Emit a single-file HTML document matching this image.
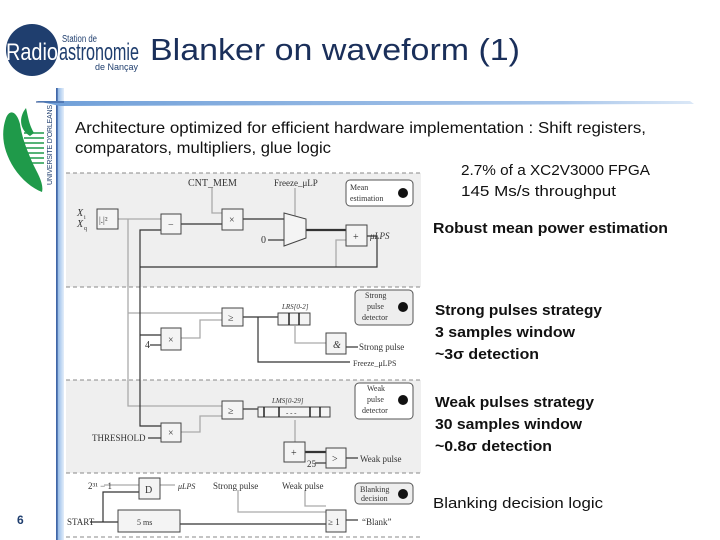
<!DOCTYPE html>
<html><head><meta charset="utf-8"><style>
html,body{margin:0;padding:0;background:#fff;}
svg{display:block;}
.t{font-family:"Liberation Sans",sans-serif;}
.s{font-family:"Liberation Serif",serif;fill:#333;}
</style></head><body>
<svg width="720" height="540" viewBox="0 0 720 540" xmlns="http://www.w3.org/2000/svg">
<defs>
<linearGradient id="hb" x1="0" x2="1" y1="0" y2="0"><stop offset="0" stop-color="#6f9fd8"/><stop offset="0.8" stop-color="#a9c6ea"/><stop offset="1" stop-color="#dbe8f7"/></linearGradient>
<linearGradient id="vb" x1="0" x2="1" y1="0" y2="0"><stop offset="0" stop-color="#4a78c0"/><stop offset="0.3" stop-color="#9cc0ea"/><stop offset="1" stop-color="#e4eefa"/></linearGradient>
</defs>
<!-- logo -->
<circle cx="32" cy="50" r="26" fill="#1f3e6e"/>
<text x="6" y="60" class="t" font-size="24" fill="#fff" textLength="52" lengthAdjust="spacingAndGlyphs">Radio</text>
<text x="59" y="60" class="t" font-size="24" fill="#1f3e6e" textLength="80" lengthAdjust="spacingAndGlyphs">astronomie</text>
<text x="62" y="42" class="t" font-size="10" fill="#1f3e6e" textLength="35" lengthAdjust="spacingAndGlyphs">Station de</text>
<text x="95" y="70" class="t" font-size="9" fill="#1f3e6e" textLength="43" lengthAdjust="spacingAndGlyphs">de Nançay</text>
<text x="150" y="60" class="t" font-size="31" fill="#1a2f5a" textLength="370" lengthAdjust="spacingAndGlyphs">Blanker on waveform  (1)</text>
<!-- green logo -->
<path d="M6 118 C0 135 4 152 14 168 C22 180 32 188 42 192 C44 184 38 174 33 164 C27 150 22 138 20 124 C17 112 10 108 6 118Z" fill="#1f9a4a"/>
<path d="M26 108 C18 118 20 130 30 136 L34 133 C29 125 28 116 26 108Z" fill="#1f9a4a"/>
<g stroke="#1f9a4a" stroke-width="1.5"><line x1="24" y1="133" x2="44" y2="133"/><line x1="24" y1="138" x2="44" y2="138"/><line x1="24" y1="143" x2="44" y2="143"/><line x1="24" y1="148" x2="44" y2="148"/><line x1="26" y1="153" x2="44" y2="153"/><line x1="28" y1="158" x2="44" y2="158"/><line x1="30" y1="163" x2="44" y2="163"/></g>
<text transform="translate(52,185) rotate(-90)" class="t" font-size="7" fill="#1f3e6e" textLength="80">UNIVERSITE D'ORLEANS</text>
<!-- bars -->
<rect x="56" y="88" width="8" height="452" fill="url(#vb)"/>
<line x1="57" y1="88" x2="57" y2="540" stroke="#2d4f8e" stroke-width="1"/>
<path d="M36 101 L690 101 L694 104 L60 106 Z" fill="url(#hb)"/>
<line x1="36" y1="102" x2="64" y2="102" stroke="#2d4f8e" stroke-width="1"/>
<text x="17" y="524" class="t" font-size="12" fill="#1f3e6e" font-weight="bold">6</text>
<!-- body text -->
<text x="75" y="133" class="t" font-size="16" fill="#111" textLength="571" lengthAdjust="spacingAndGlyphs">Architecture optimized for efficient hardware implementation : Shift registers,</text>
<text x="75" y="153" class="t" font-size="16" fill="#111" textLength="256" lengthAdjust="spacingAndGlyphs">comparators, multipliers, glue logic</text>
<g class="t" font-size="15" fill="#111">
<text x="461" y="175" textLength="189" lengthAdjust="spacingAndGlyphs">2.7% of a XC2V3000 FPGA</text>
<text x="461" y="196" textLength="155" lengthAdjust="spacingAndGlyphs">145 Ms/s throughput</text>
<text x="433" y="233" font-weight="bold" textLength="235" lengthAdjust="spacingAndGlyphs">Robust mean power estimation</text>
<text x="435" y="315" font-weight="bold" textLength="167" lengthAdjust="spacingAndGlyphs">Strong pulses strategy</text>
<text x="435" y="337" font-weight="bold" textLength="140" lengthAdjust="spacingAndGlyphs">3 samples window</text>
<text x="435" y="359" font-weight="bold" textLength="104" lengthAdjust="spacingAndGlyphs">~3σ detection</text>
<text x="435" y="407" font-weight="bold" textLength="159" lengthAdjust="spacingAndGlyphs">Weak pulses strategy</text>
<text x="435" y="429" font-weight="bold" textLength="147" lengthAdjust="spacingAndGlyphs">30 samples window</text>
<text x="435" y="451" font-weight="bold" textLength="117" lengthAdjust="spacingAndGlyphs">~0.8σ detection</text>
<text x="433" y="508" textLength="170" lengthAdjust="spacingAndGlyphs">Blanking decision logic</text>
</g>
<!-- diagram backgrounds -->
<rect x="66" y="173" width="355" height="114" fill="#efefef"/>
<rect x="66" y="380" width="355" height="93" fill="#efefef"/>
<g stroke="#888" stroke-width="1" stroke-dasharray="4,3">
<line x1="66" y1="173" x2="421" y2="173"/><line x1="66" y1="287" x2="421" y2="287"/>
<line x1="66" y1="380" x2="421" y2="380"/><line x1="66" y1="473" x2="421" y2="473"/>
<line x1="66" y1="537" x2="421" y2="537"/>
</g>
<!-- legend boxes -->
<g fill="#fff" stroke="#555" stroke-width="1">
<rect x="346" y="180" width="67" height="26" rx="4"/>
<rect x="355" y="290" width="58" height="35" rx="4" fill="#eee"/>
<rect x="355" y="383" width="58" height="36" rx="4"/>
<rect x="355" y="483" width="58" height="21" rx="4" fill="#eee"/>
</g>
<g fill="#111"><circle cx="403" cy="193" r="5"/><circle cx="403" cy="307" r="5"/><circle cx="403" cy="400" r="5"/><circle cx="403" cy="494" r="5"/></g>
<g class="s" font-size="8">
<text x="350" y="190">Mean</text><text x="350" y="201">estimation</text>
<text x="365" y="298">Strong</text><text x="367" y="309">pulse</text><text x="362" y="320">detector</text>
<text x="367" y="391">Weak</text><text x="367" y="402">pulse</text><text x="362" y="413">detector</text>
<text x="360" y="492">Blanking</text><text x="361" y="501">decision</text>
</g>
<!-- wires -->
<g stroke="#aaa" stroke-width="1.3" fill="none">
<polyline points="118,219 161,219"/>
<polyline points="128,219 128,406 222,406"/>
<polyline points="128,313 222,313"/>
<polyline points="212,188 212,213 222,213"/>
<polyline points="295,188 295,216"/>
<polyline points="336,267 336,240 346,240"/>
<polyline points="181,338 200,338 200,320 222,320"/>
<polyline points="181,432 200,432 200,416 222,416"/>
<polyline points="295,326 295,343 326,343"/>
<polyline points="295,420 295,442"/>
<polyline points="104,485 139,485"/>
<polyline points="160,485 175,485"/>
<polyline points="238,490 238,512 326,512"/>
<polyline points="305,490 305,506 326,506"/>
</g>
<g stroke="#333" stroke-width="1.2" fill="none">
<polyline points="181,224 222,224"/>
<polyline points="243,219 284,219"/>
<polyline points="268,240 284,240"/>
<polyline points="367,236 377,236 377,267 140,267"/>
<polyline points="161,230 140,230 140,426 161,426"/>
<polyline points="140,335 161,335"/>
<polyline points="243,317 278,317"/>
<polyline points="258,317 258,362 350,362"/>
<polyline points="346,347 358,347"/>
<polyline points="243,409 258,409"/>
<polyline points="148,438 161,438"/>
<polyline points="326,463 315,463"/>
<polyline points="346,458 358,458"/>
<polyline points="90,522 118,522"/>
<polyline points="103,522 103,492 139,492"/>
<polyline points="180,524 326,524"/>
<polyline points="346,520 358,520"/>
<polyline points="150,345 161,345"/>
</g>
<g stroke="#333" stroke-width="2.2" fill="none">
<polyline points="306,230 346,230"/>
<polyline points="305,452 326,452"/>
</g>
<!-- blocks -->
<g fill="#f4f4f4" stroke="#444" stroke-width="1">
<rect x="97" y="209" width="21" height="20"/>
<rect x="161" y="214" width="20" height="20"/>
<rect x="222" y="209" width="21" height="21"/>
<polygon points="284,213 306,219 306,238 284,246"/>
<rect x="346" y="225" width="21" height="21"/>
<rect x="222" y="308" width="21" height="18"/>
<rect x="161" y="328" width="20" height="22"/>
<rect x="278" y="313" width="32" height="12"/>
<rect x="326" y="333" width="20" height="21"/>
<rect x="222" y="401" width="21" height="18"/>
<rect x="161" y="423" width="20" height="19"/>
<rect x="258" y="407" width="72" height="10"/>
<rect x="284" y="442" width="21" height="20"/>
<rect x="326" y="448" width="20" height="20"/>
<rect x="139" y="478" width="21" height="21"/>
<rect x="118" y="510" width="62" height="22"/>
<rect x="326" y="510" width="20" height="22"/>
</g>
<g stroke="#222" stroke-width="1.5">
<line x1="289" y1="313" x2="289" y2="325"/><line x1="299" y1="313" x2="299" y2="325"/>
<line x1="264" y1="407" x2="264" y2="417"/><line x1="279" y1="407" x2="279" y2="417"/><line x1="310" y1="407" x2="310" y2="417"/><line x1="320" y1="407" x2="320" y2="417"/>
</g>
<g class="s" font-size="10">
<text x="188" y="186">CNT_MEM</text>
<text x="274" y="186" font-size="9">Freeze_μLP</text>
<text x="77" y="216" font-style="italic">X</text><text x="84" y="219" font-size="6">i</text>
<text x="77" y="227" font-style="italic">X</text><text x="84" y="230" font-size="6">q</text>
<text x="99" y="223" font-size="9">|.|²</text>
<text x="168" y="228">−</text><text x="229" y="223">×</text><text x="353" y="240">+</text>
<text x="261" y="243">0</text>
<text x="370" y="239" font-size="9" font-style="italic">μLPS</text>
<text x="228" y="321">≥</text><text x="168" y="343">×</text><text x="145" y="348">4</text>
<text x="282" y="309" font-size="7" font-style="italic">LRS[0-2]</text>
<text x="333" y="348" font-style="italic">&amp;</text>
<text x="359" y="350" font-size="9">Strong pulse</text>
<text x="353" y="366" font-size="8">Freeze_μLPS</text>
<text x="228" y="414">≥</text><text x="168" y="436">×</text>
<text x="92" y="441" font-size="9">THRESHOLD</text>
<text x="272" y="403" font-size="7" font-style="italic">LMS[0-29]</text>
<text x="286" y="415" font-size="7">- - -</text>
<text x="291" y="456">+</text><text x="332" y="462">&gt;</text>
<text x="307" y="467" font-size="9">25</text>
<text x="360" y="462" font-size="9">Weak pulse</text>
<text x="88" y="489" font-size="9">2³¹ − 1</text>
<text x="145" y="493">D</text>
<text x="178" y="489" font-size="8" font-style="italic">μLPS</text>
<text x="213" y="489" font-size="9">Strong pulse</text>
<text x="282" y="489" font-size="9">Weak pulse</text>
<text x="67" y="525" font-size="9">START</text>
<text x="137" y="525" font-size="8">5 ms</text>
<text x="328" y="525" font-size="9">≥ 1</text>
<text x="362" y="525" font-size="9">“Blank”</text>
</g>
</svg>
</body></html>
